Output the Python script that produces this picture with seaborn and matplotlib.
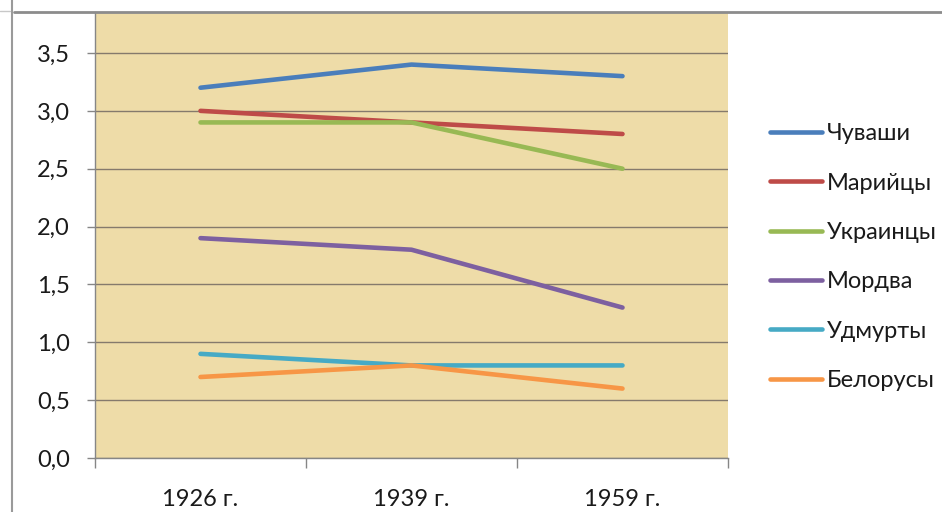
import matplotlib
matplotlib.use("Agg")
import matplotlib.pyplot as plt
import seaborn as sns
import pandas as pd
from matplotlib.lines import Line2D

years = ["1926 г.", "1939 г.", "1959 г."]
peoples = ["Чуваши", "Марийцы", "Украинцы", "Мордва", "Удмурты", "Белорусы"]
chuvashi = [3.2, 3.4, 3.3]
mariytsy = [3.0, 2.9, 2.8]
ukraintsy = [2.9, 2.9, 2.5]
mordva = [1.9, 1.8, 1.3]
udmurty = [0.9, 0.8, 0.8]
belorusy = [0.7, 0.8, 0.6]
colors = ["#4A7EBB", "#BE4B48", "#98B954", "#7D60A0", "#46AAC5", "#F79646"]
yticks = [0.0, 0.5, 1.0, 1.5, 2.0, 2.5, 3.0, 3.5]

series = [chuvashi, mariytsy, ukraintsy, mordva, udmurty, belorusy]
rows = []
for name, vals in zip(peoples, series):
    for i, v in enumerate(vals):
        rows.append({"people": name, "x": i, "value": v})
df = pd.DataFrame(rows)

sns.set_style("white")
plt.rcParams["font.family"] = ["Lato", "DejaVu Sans"]

W, H = 942, 512
fig = plt.figure(figsize=(W / 100, H / 100), dpi=100)
x0, x1, y0, y1 = 95, 728, 12, 458
ax = fig.add_axes([x0 / W, 1 - y1 / H, (x1 - x0) / W, (y1 - y0) / H])
ax.set_facecolor("#EEDCA8")

sns.lineplot(data=df, x="x", y="value", hue="people", hue_order=peoples,
             palette=colors, linewidth=3.3, ax=ax, legend=False, zorder=3)

ytop = 3.5 + (53 - 12) / ((458 - 53) / 3.5)
ax.set_ylim(0, ytop)
ax.set_xlim(-0.5, 2.5)
ax.set_yticks(yticks)
ax.set_yticklabels([f"{t:.1f}".replace(".", ",") for t in yticks])
ax.set_xticks([0, 1, 2])
ax.set_xticklabels(years)
ax.set_xticks([-0.5, 0.5, 1.5, 2.5], minor=True)
ax.grid(axis="y", color="#857A6C", linewidth=1.0, zorder=1)
ax.set_axisbelow(True)
ax.set_xlabel("")
ax.set_ylabel("")
for s in ["top", "right"]:
    ax.spines[s].set_visible(False)
for s in ["left", "bottom"]:
    ax.spines[s].set_color("#868686")
    ax.spines[s].set_linewidth(1.0)
ax.tick_params(axis="y", which="major", length=6, color="#868686", width=1,
               labelsize=17, pad=12, labelcolor="#1a1a1a", left=True)
ax.tick_params(axis="x", which="major", length=0, labelsize=17, pad=22,
               labelcolor="#1a1a1a")
ax.tick_params(axis="x", which="minor", length=7, color="#868686", width=1,
               bottom=True, direction="out")

handles = [Line2D([0], [0], color=c, linewidth=3.3) for c in colors]
fig.legend(handles, peoples, loc="upper left",
           bbox_to_anchor=(749 / W, 1 - 102 / H), frameon=False,
           fontsize=17, handlelength=2.2, handletextpad=0.2,
           labelspacing=1.2, labelcolor="#1a1a1a")

# sheet frame lines
fig.add_artist(Line2D([12 / W, 12 / W], [0, 1], color="#9A9A9A", linewidth=1.5))
fig.add_artist(Line2D([14 / W, 1], [1 - 12 / H, 1 - 12 / H], color="#8C8C8C", linewidth=2))
fig.add_artist(Line2D([0, 10 / W], [1 - 11 / H, 1 - 11 / H], color="#C8C8C8", linewidth=1))

fig.savefig("out.png", dpi=100, facecolor="white")
